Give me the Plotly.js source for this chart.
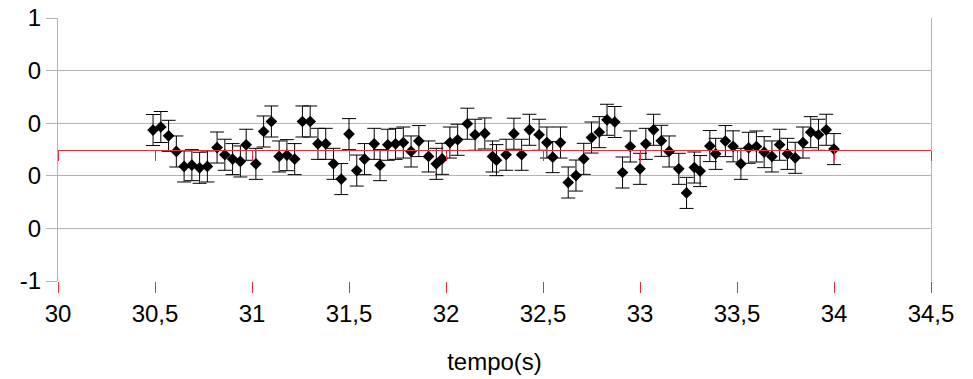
<!DOCTYPE html>
<html>
<head>
<meta charset="utf-8">
<script src="https://cdn.plot.ly/plotly-3.0.1.min.js"></script>
<style>
  html, body { margin: 0; padding: 0; background: #ffffff; }
  #chart { width: 973px; height: 379px; }
</style>
</head>
<body>
<div id="chart"></div>
<script>
// Time (s)
var tempo = [
  30.49, 30.53, 30.57, 30.61, 30.65, 30.69, 30.73, 30.77, 30.82, 30.86,
  30.90, 30.94, 30.97, 31.02, 31.06, 31.10, 31.14, 31.18, 31.22, 31.26,
  31.30, 31.34, 31.38, 31.42, 31.46, 31.50, 31.54, 31.58, 31.63, 31.66,
  31.70, 31.74, 31.78, 31.82, 31.86, 31.91, 31.95, 31.98, 32.02, 32.06,
  32.11, 32.15, 32.20, 32.24, 32.26, 32.31, 32.35, 32.39, 32.43, 32.48,
  32.52, 32.55, 32.59, 32.63, 32.67, 32.71, 32.75, 32.79, 32.83, 32.87,
  32.91, 32.95, 33.00, 33.03, 33.07, 33.11, 33.15, 33.20, 33.24, 33.28,
  33.31, 33.36, 33.39, 33.44, 33.48, 33.52, 33.56, 33.60, 33.64, 33.68,
  33.72, 33.76, 33.80, 33.84, 33.88, 33.92, 33.96, 34.00
];
// Measured values
var valores = [
  0.148, 0.171, 0.104, -0.015, -0.129, -0.119, -0.139, -0.129, 0.015, -0.040,
  -0.073, -0.091, 0.036, -0.109, 0.137, 0.213, -0.053, -0.043, -0.073, 0.213,
  0.213, 0.043, 0.043, -0.109, -0.225, 0.117, -0.160, -0.073, 0.043, -0.119,
  0.036, 0.043, 0.053, -0.015, 0.064, -0.053, -0.109, -0.071, 0.053, 0.074,
  0.196, 0.112, 0.122, -0.053, -0.081, -0.040, 0.120, -0.040, 0.150, 0.112,
  0.053, -0.058, 0.053, -0.251, -0.198, -0.071, 0.091, 0.132, 0.226, 0.209,
  -0.175, 0.023, -0.147, 0.043, 0.150, 0.066, -0.015, -0.147, -0.330, -0.137,
  -0.164, 0.026, -0.033, 0.064, 0.024, -0.109, 0.013, 0.023, -0.020, -0.053,
  0.036, -0.033, -0.063, 0.053, 0.132, 0.112, 0.150, 0.003
];
// Uncertainty (symmetric)
var incerteza = 0.118;

var xTickVals = [30, 30.5, 31, 31.5, 32, 32.5, 33, 33.5, 34, 34.5];
var xTickText = ['30', '30,5', '31', '31,5', '32', '32,5', '33', '33,5', '34', '34,5'];
var yTickVals = [-1, -0.6, -0.2, 0.2, 0.6, 1];
var yTickText = ['-1', '0', '0', '0', '0', '1'];

var GRAY = '#b3b3b3';
var RED = '#e0313f';
var FONT = 'Liberation Sans, Arial, sans-serif';

var trace = {
  x: tempo,
  y: valores,
  type: 'scatter',
  mode: 'markers',
  marker: { symbol: 'diamond', size: 9, color: '#000000', line: { width: 0 } },
  error_y: {
    type: 'constant',
    value: incerteza,
    symmetric: true,
    color: '#000000',
    thickness: 1,
    width: 7
  },
  showlegend: false,
  hoverinfo: 'x+y'
};

var layout = {
  width: 973,
  height: 379,
  margin: { l: 58, r: 42, t: 18, b: 98 },
  paper_bgcolor: '#ffffff',
  plot_bgcolor: '#ffffff',
  font: { family: FONT, size: 24, color: '#000000' },
  showlegend: false,
  xaxis: {
    range: [30, 34.5],
    tickmode: 'array',
    tickvals: xTickVals,
    ticktext: xTickText,
    showgrid: false,
    zeroline: false,
    showline: false,
    ticks: 'outside',
    ticklen: 11,
    tickwidth: 1,
    tickcolor: RED,
    tickfont: { family: FONT, size: 24, color: '#000000' },
    title: { text: 'tempo(s)', font: { family: FONT, size: 24, color: '#000000' }, standoff: 27 },
    automargin: false,
    fixedrange: true
  },
  xaxis2: {
    overlaying: 'x',
    anchor: 'free',
    position: 0.5,
    side: 'bottom',
    range: [30, 34.5],
    tickmode: 'array',
    tickvals: xTickVals,
    showticklabels: false,
    showgrid: false,
    zeroline: false,
    showline: true,
    linecolor: RED,
    linewidth: 1,
    ticks: 'outside',
    ticklen: 10,
    tickwidth: 1,
    tickcolor: RED,
    fixedrange: true
  },
  yaxis: {
    range: [-1, 1],
    tickmode: 'array',
    tickvals: yTickVals,
    ticktext: yTickText,
    showgrid: true,
    gridcolor: GRAY,
    gridwidth: 1,
    zeroline: false,
    showline: true,
    mirror: true,
    linecolor: GRAY,
    linewidth: 1,
    ticks: 'outside',
    ticklen: 11,
    tickwidth: 1,
    tickcolor: GRAY,
    tickfont: { family: FONT, size: 24, color: '#000000' },
    automargin: false,
    fixedrange: true
  }
};

var helper = {
  x: [30, 34.5],
  y: [0, 0],
  xaxis: 'x2',
  yaxis: 'y',
  type: 'scatter',
  mode: 'lines',
  line: { width: 0, color: 'rgba(0,0,0,0)' },
  showlegend: false,
  hoverinfo: 'skip'
};

Plotly.newPlot('chart', [helper, trace], layout, { displayModeBar: false, staticPlot: true });
</script>
</body>
</html>
